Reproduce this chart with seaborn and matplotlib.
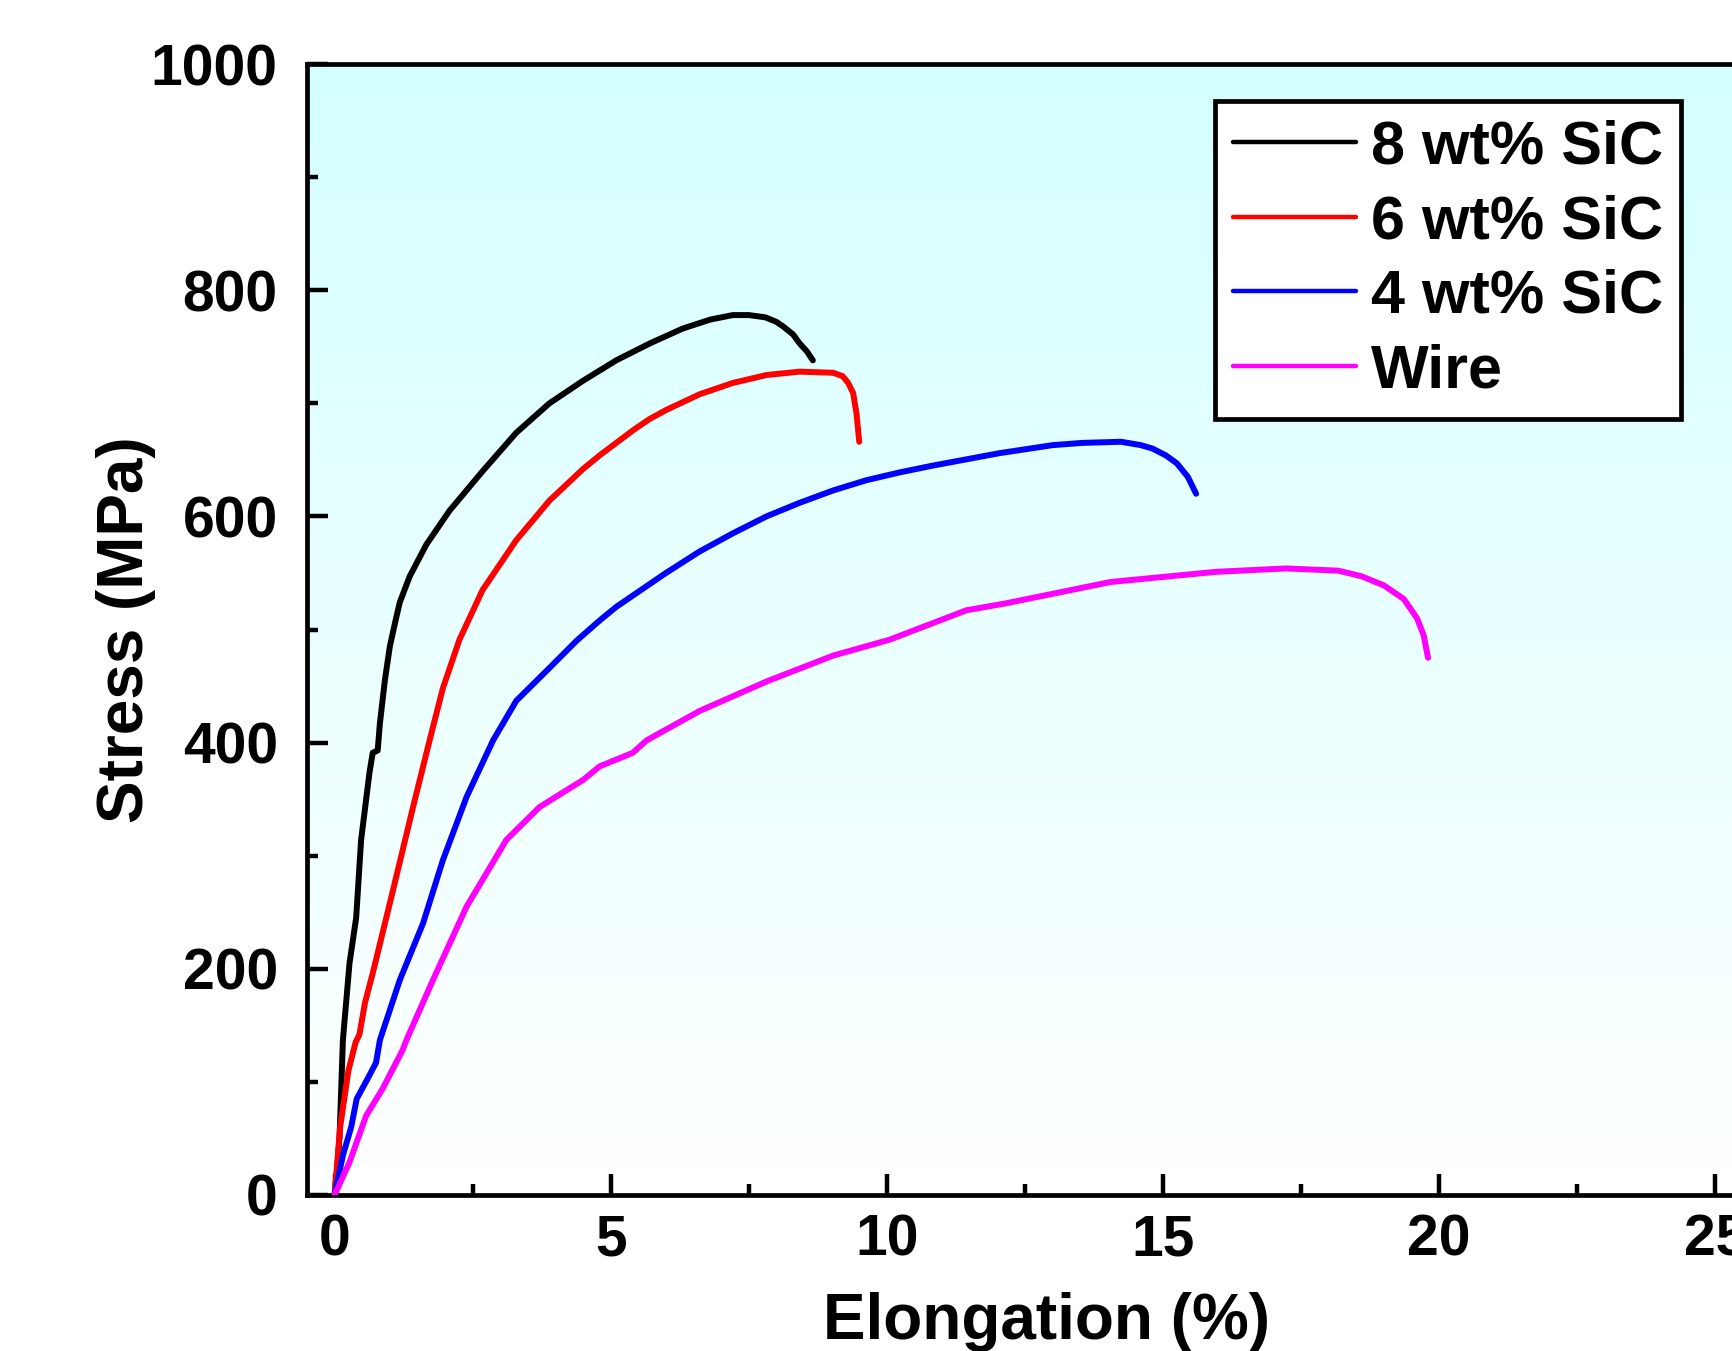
import numpy as np
import pandas as pd
import matplotlib
matplotlib.use("Agg")
import matplotlib.pyplot as plt
from matplotlib.colors import LinearSegmentedColormap
from matplotlib.ticker import MultipleLocator
from matplotlib.lines import Line2D
import seaborn as sns

# ---------------- data ----------------
series_names = ["8 wt% SiC", "6 wt% SiC", "4 wt% SiC", "Wire"]
series_colors = ["#000000", "#ff0000", "#0000ff", "#ff00ff"]

sic8_x = [0, 0.05, 0.09, 0.15, 0.27, 0.33, 0.39, 0.48, 0.63, 0.69, 0.78, 0.82, 0.91, 1.0,
          1.09, 1.18, 1.36, 1.66, 2.08, 2.68, 3.29, 3.89, 4.5, 5.1, 5.71, 6.3, 6.8, 7.21,
          7.5, 7.8, 8.0, 8.12, 8.3, 8.42, 8.55, 8.66]
sic8_y = [0, 25, 52, 137, 205, 225, 245, 314, 373, 391, 393, 417, 455, 485,
          505, 524, 547, 575, 605, 640, 674, 700, 720, 738, 753, 766, 774, 778,
          778, 776, 772, 768, 761, 753, 746, 738]

sic6_x = [0, 0.1, 0.25, 0.38, 0.45, 0.55, 0.69, 1.06, 1.42, 1.72, 1.96, 2.26, 2.68,
          3.29, 3.89, 4.5, 4.8, 5.1, 5.4, 5.7, 6.0, 6.61, 7.21, 7.82, 8.42, 9.03, 9.2,
          9.3, 9.39, 9.45, 9.5]
sic6_y = [0, 60, 110, 135, 142, 170, 196, 270, 343, 402, 448, 491, 535,
          579, 614, 642, 654, 665, 676, 686, 694, 708, 718, 725, 728, 727, 724,
          718, 709, 691, 666]

sic4_x = [0, 0.15, 0.3, 0.4, 0.6, 0.75, 0.82, 1.18, 1.6, 1.96, 2.39, 2.87, 3.29, 3.89,
          4.38, 4.8, 5.1, 5.4, 6.0, 6.61, 7.21, 7.82, 8.42, 9.03, 9.63, 10.24, 10.84,
          11.5, 12.05, 12.46, 13.0, 13.54, 14.24, 14.6, 14.81, 15.05, 15.25, 15.45, 15.6]
sic4_y = [0, 35, 60, 85, 103, 117, 137, 190, 240, 296, 352, 402, 437, 466,
          490, 508, 520, 530, 550, 569, 585, 600, 612, 623, 632, 639, 645,
          651, 656, 659, 663, 665, 666, 663, 660, 654, 647, 635, 620]

wire_x = [0, 0.27, 0.57, 0.87, 1.23, 1.3, 1.78, 2.39, 3.11, 3.71, 4.5, 4.8, 5.4, 5.65,
          6.61, 7.82, 9.03, 10.05, 11.44, 12.14, 14.05, 15.96, 17.23, 18.18, 18.6, 19.0,
          19.36, 19.6, 19.72, 19.8]
wire_y = [0, 29, 70, 94, 128, 137, 190, 255, 314, 343, 367, 379, 391, 402,
          428, 454, 477, 491, 517, 523, 542, 551, 554, 552, 547, 539,
          527, 510, 495, 475]

x_ticks = [0, 5, 10, 15, 20, 25]
y_ticks = [0, 200, 400, 600, 800, 1000]

# ---------------- build long table ----------------
frames = []
for name, xs, ys in zip(series_names,
                        [sic8_x, sic6_x, sic4_x, wire_x],
                        [sic8_y, sic6_y, sic4_y, wire_y]):
    frames.append(pd.DataFrame({"Elongation": xs, "Stress": ys, "Sample": name}))
df = pd.concat(frames, ignore_index=True)

# ---------------- figure ----------------
sns.set_style("ticks")
plt.rcParams["font.family"] = ["Liberation Sans", "DejaVu Sans"]
plt.rcParams["font.weight"] = "bold"
plt.rcParams["text.color"] = "black"
plt.rcParams["axes.labelcolor"] = "black"
plt.rcParams["xtick.color"] = "black"
plt.rcParams["ytick.color"] = "black"
plt.rcParams["xtick.labelcolor"] = "black"
plt.rcParams["ytick.labelcolor"] = "black"

W, H = 1733, 1351
fig = plt.figure(figsize=(W / 100, H / 100), dpi=100)
ax_left, ax_right = 307, 1787
ax_top, ax_bottom = 64, 1195
ax = fig.add_axes([ax_left / W, 1 - ax_bottom / H,
                   (ax_right - ax_left) / W, (ax_bottom - ax_top) / H])

# background gradient (white at bottom -> light cyan at top)
grad = np.linspace(0, 1, 256).reshape(-1, 1)
cmap = LinearSegmentedColormap.from_list("bg", ["#ffffff", "#d4ffff"])
ax.imshow(grad, extent=[0, 1, 0, 1], transform=ax.transAxes, aspect="auto",
          cmap=cmap, origin="lower", zorder=0, interpolation="bicubic")

palette = dict(zip(series_names, series_colors))
sns.lineplot(data=df, x="Elongation", y="Stress", hue="Sample", palette=palette,
             hue_order=series_names, sort=False, estimator=None, units="Sample",
             ax=ax, legend=False, zorder=3)
for ln in ax.get_lines():
    ln.set_linewidth(4.3)
    ln.set_solid_joinstyle("round")
    ln.set_solid_capstyle("round")

ax.set_xlim(-0.5, 26.3)
ax.set_ylim(0, 1000)
ax.set_xticks(x_ticks)
ax.set_yticks(y_ticks)
ax.xaxis.set_minor_locator(MultipleLocator(2.5))
ax.yaxis.set_minor_locator(MultipleLocator(100))

for sp in ax.spines.values():
    sp.set_linewidth(3.4)
    sp.set_color("black")
    sp.set_visible(True)

ax.tick_params(axis="both", which="major", direction="in", length=15, width=3.2,
               labelsize=41, top=False, right=False, color="black", labelcolor="black")
ax.tick_params(axis="both", which="minor", direction="in", length=8, width=3.2,
               top=False, right=False, color="black")
ax.tick_params(axis="x", which="major", pad=13)
ax.tick_params(axis="y", which="major", pad=21)
for lab in ax.get_xticklabels() + ax.get_yticklabels():
    lab.set_fontweight("bold")

ax.set_xlabel("Elongation (%)", fontsize=46, fontweight="bold", color="black")
ax.set_ylabel("Stress (MPa)", fontsize=46, fontweight="bold", color="black")
ax.xaxis.set_label_coords(0.5, -0.086)
ax.yaxis.set_label_coords(-0.102, 0.5)

handles = [Line2D([0], [0], color=c, linewidth=3.2) for c in series_colors]
leg = ax.legend(handles, series_names, loc="upper left",
                bbox_to_anchor=(1215 / W, 1 - 101 / H), bbox_transform=fig.transFigure,
                frameon=True, fancybox=False, framealpha=1, edgecolor="black",
                facecolor="white", prop={"family": "Liberation Sans", "weight": "bold", "size": 44},
                handlelength=2.0, handletextpad=0.25, labelspacing=0.29,
                borderpad=0.3, borderaxespad=0)
leg.get_frame().set_linewidth(3.4)
for t in leg.get_texts():
    t.set_color("black")
leg.set_zorder(5)

fig.savefig("out.png", dpi=100)
